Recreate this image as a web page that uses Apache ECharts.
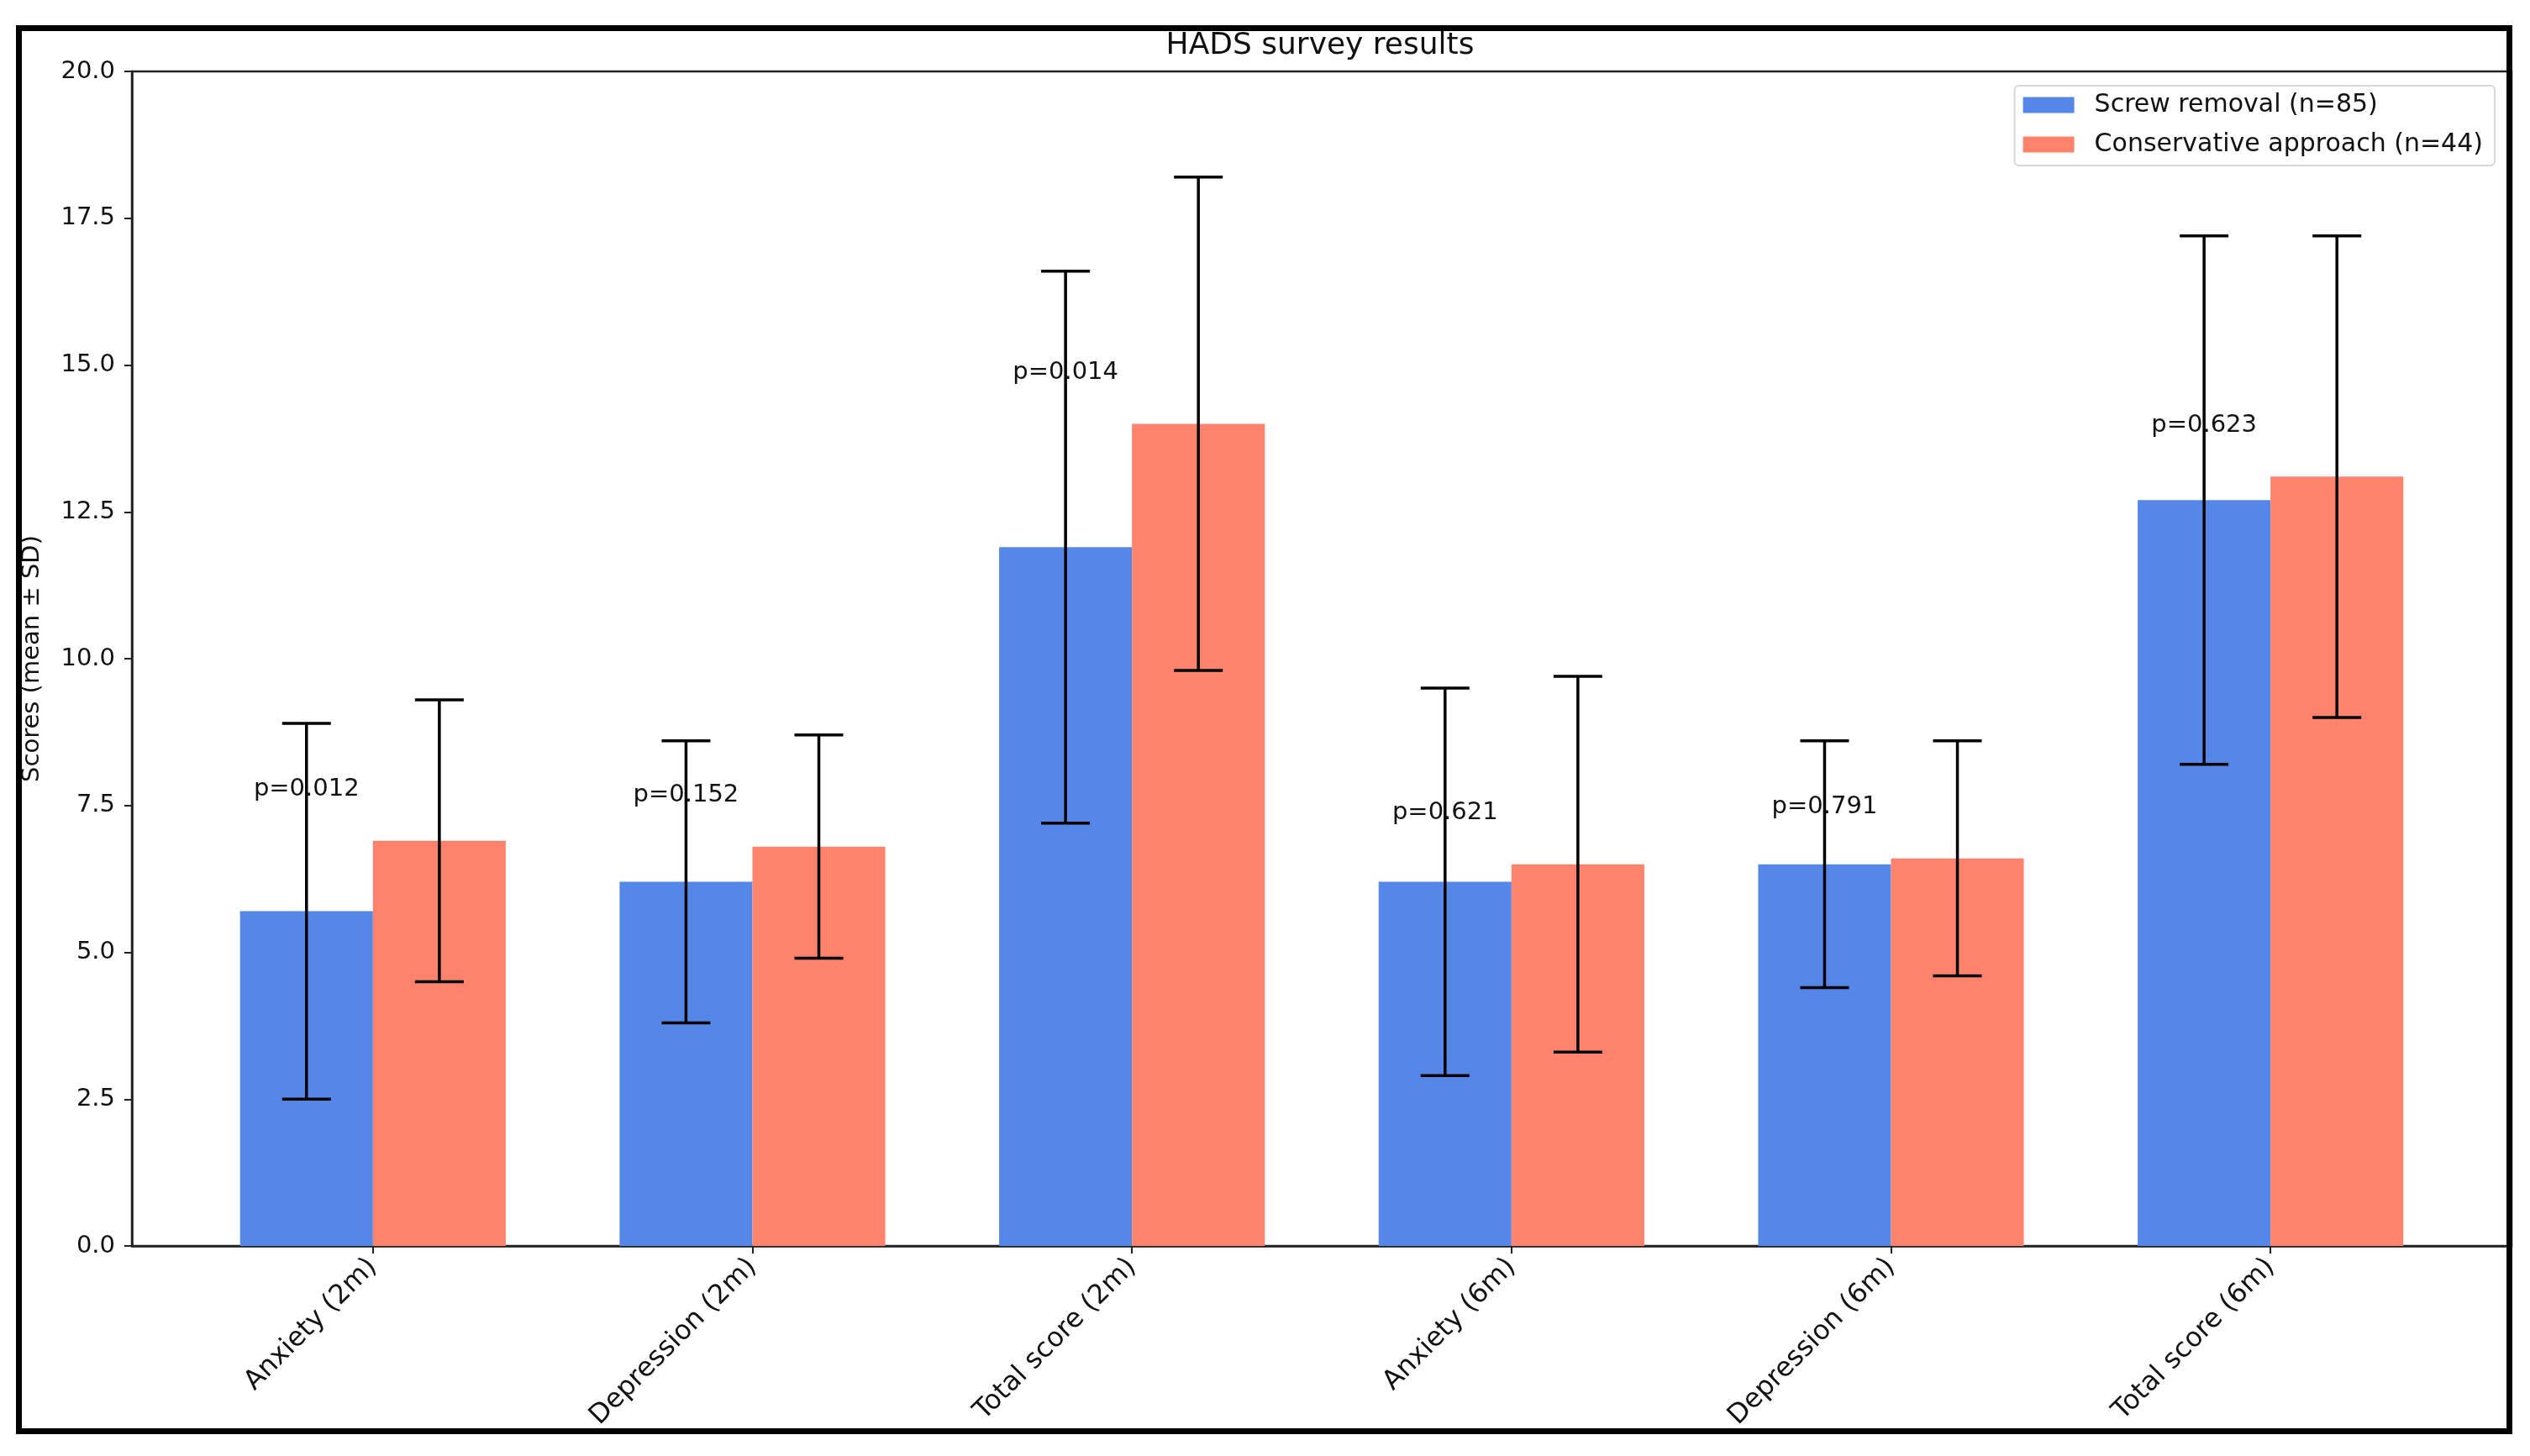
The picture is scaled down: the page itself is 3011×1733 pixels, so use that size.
<!DOCTYPE html>
<html><head><meta charset="utf-8">
<script src="https://cdn.jsdelivr.net/npm/echarts@6/dist/echarts.min.js"></script>
<style>html,body{margin:0;padding:0;background:#fff}#c{width:3011px;height:1733px}</style>
</head><body><div id="c"></div>
<script>
const categories = ['Anxiety (2m)', 'Depression (2m)', 'Total score (2m)', 'Anxiety (6m)', 'Depression (6m)', 'Total score (6m)'];
const seriesNames = ['Screw removal (n=85)', 'Conservative approach (n=44)'];
const screwMean = [5.7, 6.2, 11.9, 6.2, 6.5, 12.7];
const screwSD   = [3.2, 2.4, 4.7, 3.3, 2.1, 4.5];
const consMean  = [6.9, 6.8, 14.0, 6.5, 6.6, 13.1];
const consSD    = [2.4, 1.9, 4.2, 3.2, 2.0, 4.1];
const pValues   = ['p=0.012', 'p=0.152', 'p=0.014', 'p=0.621', 'p=0.791', 'p=0.623'];
const yTicks    = [0, 2.5, 5, 7.5, 10, 12.5, 15, 17.5, 20];

const BAR_W = 0.35;
const BLUE = '#5587E9', SALMON = '#FF826C';
const FONT = 'DejaVu Sans';
const catIdx = categories.map((_, i) => i);

function barRender(offset) {
  return function (params, api) {
    const i = api.value(0), v = api.value(1);
    const p0 = api.coord([i + offset, v]);
    const p1 = api.coord([i + offset + BAR_W, 0]);
    return { type: 'rect', shape: { x: p0[0], y: p0[1], width: p1[0] - p0[0], height: p1[1] - p0[1] },
             style: { fill: api.visual('color') } };
  };
}
function errRender(offset) {
  return function (params, api) {
    const i = api.value(0), m = api.value(1), sd = api.value(2);
    const x = i + offset + BAR_W / 2;
    const top = api.coord([x, m + sd]), bot = api.coord([x, m - sd]);
    const cap = 29;
    const st = { stroke: '#000', lineWidth: 3.5 };
    return { type: 'group', children: [
      { type: 'line', shape: { x1: top[0], y1: top[1], x2: bot[0], y2: bot[1] }, style: st },
      { type: 'line', shape: { x1: top[0] - cap, y1: top[1], x2: top[0] + cap, y2: top[1] }, style: st },
      { type: 'line', shape: { x1: bot[0] - cap, y1: bot[1], x2: bot[0] + cap, y2: bot[1] }, style: st }
    ]};
  };
}
function pRender(params, api) {
  const i = api.value(0), top = api.value(1);
  const pt = api.coord([i - BAR_W / 2, top + 0.87]);
  return { type: 'text', x: pt[0], y: pt[1],
           style: { text: pValues[i], fill: '#111', font: '29px "DejaVu Sans"', align: 'center', verticalAlign: 'middle' } };
}

const chart = echarts.init(document.getElementById('c'), null, { renderer: 'canvas' });
chart.setOption({
  animation: false,
  backgroundColor: '#fff',
  title: { text: 'HADS survey results', left: 1566, top: 32, textAlign: 'center',
           textStyle: { fontFamily: FONT, fontSize: 36, fontWeight: 'normal', color: '#111' } },
  legend: {
    right: 42, top: 102, orient: 'vertical', itemWidth: 61, itemHeight: 19, itemGap: 17,
    padding: [8, 14, 10, 10], borderColor: '#d6d6d6', borderWidth: 2, borderRadius: 5,
    backgroundColor: '#fff',
    textStyle: { fontFamily: FONT, fontSize: 30, color: '#111', padding: [0, 0, 0, 19], lineHeight: 29 },
    data: [{ name: seriesNames[0], icon: 'rect' }, { name: seriesNames[1], icon: 'rect' }]
  },
  grid: { left: 157, right: 22, top: 85, bottom: 250, show: true, borderColor: '#222', borderWidth: 2.5 },
  xAxis: {
    type: 'value', min: -0.635, max: 5.635,
    splitLine: { show: false },
    axisLine: { show: true, onZero: false, lineStyle: { color: '#222', width: 2.5 } },
    axisTick: { show: true, length: 9, lineStyle: { color: '#222', width: 2 }, customValues: catIdx },
    axisLabel: { customValues: catIdx, rotate: 45, margin: 20, fontFamily: FONT, fontSize: 32, color: '#111',
                 formatter: v => categories[Math.round(v)] }
  },
  yAxis: {
    type: 'value', min: 0, max: 20, interval: 2.5,
    name: 'Scores (mean ± SD)', nameLocation: 'middle', nameGap: 104, nameRotate: 90,
    nameTextStyle: { fontFamily: FONT, fontSize: 29, color: '#111' },
    splitLine: { show: false },
    axisLine: { show: true, onZero: false, lineStyle: { color: '#222', width: 2.5 } },
    axisTick: { show: true, length: 9, lineStyle: { color: '#222', width: 2 } },
    axisLabel: { margin: 20, fontFamily: FONT, fontSize: 29, color: '#111', formatter: v => v.toFixed(1) }
  },
  series: [
    { name: seriesNames[0], type: 'custom', itemStyle: { color: BLUE }, renderItem: barRender(-BAR_W),
      data: catIdx.map(i => [i, screwMean[i]]), z: 2 },
    { name: seriesNames[1], type: 'custom', itemStyle: { color: SALMON }, renderItem: barRender(0),
      data: catIdx.map(i => [i, consMean[i]]), z: 2 },
    { type: 'custom', renderItem: pRender, data: catIdx.map(i => [i, Math.max(screwMean[i], consMean[i])]), z: 3 },
    { type: 'custom', renderItem: errRender(-BAR_W), data: catIdx.map(i => [i, screwMean[i], screwSD[i]]), z: 4 },
    { type: 'custom', renderItem: errRender(0), data: catIdx.map(i => [i, consMean[i], consSD[i]]), z: 4 }
  ],
  graphic: [
    { type: 'rect', shape: { x: 22.5, y: 33.5, width: 2964, height: 1670 },
      style: { fill: 'none', stroke: '#000', lineWidth: 7 }, z: 100 }
  ]
});
</script></body></html>
